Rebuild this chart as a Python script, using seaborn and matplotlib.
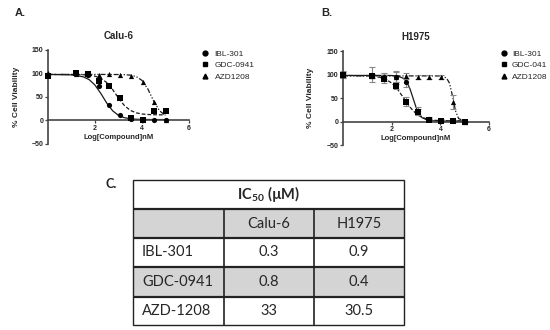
import matplotlib
matplotlib.use('Agg')
import matplotlib.pyplot as plt
import seaborn as sns
from matplotlib.lines import Line2D
from matplotlib.patches import Rectangle

sns.set_style('ticks')
plt.rcParams['font.family'] = ['Liberation Sans', 'DejaVu Sans']
plt.rcParams['mathtext.fontset'] = 'custom'
plt.rcParams['mathtext.rm'] = 'Lato:bold'

# log dose of each measurement (same for both cell lines)
dose_x = [0, 1.18, 1.7, 2.18, 2.6, 3.08, 3.54, 4.03, 4.52, 5.0]

# --- A. Calu-6 measured viability
calu_ibl = [97, 100, 97, 73, 33, 11, 3, 0, 2, 0]
calu_gdc = [95, 100, 99, 85, 73, 48, 5, 1, 20, 20]
calu_azd = [100, 99, 98, 97, 99, 97, 95, 82, 40, 0]

# fitted curves
curve_a_x = [0, 1.0, 1.5, 1.75, 2.0, 2.25, 2.5, 2.75, 3.0, 3.25, 3.5, 3.75, 4.0, 4.25, 4.5, 4.75, 5.0]
fit_a_ibl = [98, 97.1, 93.0, 87.0, 75.3, 57.4, 37.1, 20.7, 10.9, 6.0, 3.7, 2.7, 2.3, 2.1, 2.0, 2.0, 2.0]
fit_a_gdc = [98, 97.9, 97.3, 96.4, 94.3, 89.8, 80.7, 65.9, 47.7, 31.8, 21.6, 16.3, 13.9, 12.8, 12.3, 12.1, 12.0]
fit_a_azd = [98, 98, 98, 98, 98, 98, 98, 97.9, 97.8, 97.5, 96.5, 93.6, 85.3, 67.0, 41.0, 20.5, 10.5]

# --- B. H1975 measured viability (mean, error)
h_ibl = [100, 100, 95, 95, 83, 22, 5, 2, 1, 0]
h_ibl_err = [8, 15, 8, 12, 9, 8, 4, 3, 2, 1]
h_gdc = [98, 97, 90, 75, 42, 20, 4, 2, 1, 0]
h_gdc_err = [5, 5, 8, 5, 10, 6, 3, 2, 1, 1]
h_azd = [100, 97, 95, 95, 97, 95, 95, 95, 42, 0]
h_azd_err = [5, 5, 5, 10, 6, 5, 5, 5, 15, 1]

curve_b_x = [0, 1.0, 1.5, 1.75, 2.0, 2.25, 2.5, 2.625, 2.75, 2.875, 3.0, 3.125, 3.25, 3.5, 3.75, 4.0,
             4.25, 4.375, 4.5, 4.625, 4.75, 5.0]
fit_b_ibl = [98, 98, 98, 98, 97.8, 96.8, 91.4, 83.8, 69.9, 50.3, 30.5, 16.1, 8.0, 2.3, 1.2, 1.0,
             1, 1, 1, 1, 1, 1]
fit_b_gdc = [98, 97.2, 94.3, 90.1, 81.8, 68.0, 49.5, 39.9, 30.9, 23.3, 17.1, 12.4, 8.9, 4.7, 2.7, 1.8,
             1.4, 1.3, 1.2, 1.1, 1.1, 1.0]
fit_b_azd = [97, 97, 97, 97, 97, 97, 97, 97, 97, 97, 97, 97, 97, 97, 97, 96.8,
             92.9, 81.6, 54.1, 22.3, 6.4, 0.4]

# --- C. IC50 table
drugs = ['IBL-301', 'GDC-0941', 'AZD-1208']
cell_lines = ['Calu-6', 'H1975']
ic50_calu = ['0.3', '0.8', '33']
ic50_h1975 = ['0.9', '0.4', '30.5']

markers = ['o', 's', '^']
styles = ['-', (0, (3, 1.6)), (0, (4, 1.5, 1, 1.5, 1, 1.5))]
ink = '#1a1a1a'

fig = plt.figure(figsize=(5.5, 3.3), dpi=100)

# pixel canvas for labels and the table
tax = fig.add_axes([0, 0, 1, 1])
tax.set_xlim(0, 550)
tax.set_ylim(330, 0)
tax.axis('off')


def draw_panel(ax, title, series, fits, curve_x, errs=None):
    for i in range(3):
        sns.lineplot(x=curve_x, y=fits[i], ax=ax, color=ink, lw=0.9, linestyle=styles[i], zorder=2)
        if errs is not None:
            ax.errorbar(dose_x, series[i], yerr=errs[i], fmt='none', ecolor='#888888',
                        elinewidth=0.8, capsize=2, capthick=0.8, zorder=2, clip_on=False)
        sns.scatterplot(x=dose_x, y=series[i], marker=markers[i], s=14, color='black',
                        linewidth=0, ax=ax, zorder=3, clip_on=False)
    ax.set_xlim(0, 6)
    ax.set_ylim(-50, 150)
    ax.set_xticks([2, 4, 6])
    ax.set_yticks([-50, 0, 50, 100, 150])
    ax.spines['bottom'].set_position(('data', 0))
    ax.spines['top'].set_visible(False)
    ax.spines['right'].set_visible(False)
    for s in ['left', 'bottom']:
        ax.spines[s].set_color('#444444')
        ax.spines[s].set_linewidth(1.2)
    ax.tick_params(labelsize=5, width=0.9, length=2.5, color='#444444', pad=1)
    for lab in ax.get_xticklabels() + ax.get_yticklabels():
        lab.set_fontweight('bold')
    ax.set_title(title, fontsize=7, fontweight='bold', pad=8)
    ax.set_xlabel('Log[Compound]nM', fontsize=5.5, fontweight='bold')
    ax.xaxis.set_label_coords(0.5, 0.11)
    ax.set_ylabel('% Cell Viability', fontsize=6, fontweight='bold')
    ax.yaxis.set_label_coords(-0.2, 0.5)


def add_legend(ax, labels, x_px, pad):
    handles = [Line2D([], [], marker=m, ls='none', color='black', ms=3.5) for m in markers]
    ax.legend(handles, labels, loc='upper left', bbox_to_anchor=(x_px / 550, 1 - 50 / 330),
              bbox_transform=fig.transFigure, fontsize=6, handlelength=0.6, handletextpad=pad,
              labelspacing=0.45, borderpad=0, borderaxespad=0, frameon=False)


ax_a = fig.add_axes([48 / 550, 1 - 144 / 330, 141 / 550, 94 / 330])
draw_panel(ax_a, 'Calu-6', [calu_ibl, calu_gdc, calu_azd], [fit_a_ibl, fit_a_gdc, fit_a_azd], curve_a_x)
add_legend(ax_a, ['IBL-301', 'GDC-0941', 'AZD1208'], 202, 0.9)

ax_b = fig.add_axes([343 / 550, 1 - 145 / 330, 146 / 550, 94 / 330])
draw_panel(ax_b, 'H1975', [h_ibl, h_gdc, h_azd], [fit_b_ibl, fit_b_gdc, fit_b_azd], curve_b_x,
           errs=[h_ibl_err, h_gdc_err, h_azd_err])
add_legend(ax_b, ['IBL-301', 'GDC-041', 'AZD1208'], 501, 0.7)

# panel letters
tax.text(15, 13, 'A.', fontsize=8, fontweight='bold', va='center')
tax.text(321, 13, 'B.', fontsize=8, fontweight='bold', va='center')
tax.text(106, 184, 'C.', fontsize=9, fontweight='bold', va='center', family='Lato')

# table
col_edges = [133, 224, 314, 404]
row_edges = [180, 209, 238, 267, 297, 325]
gray = '#d4d4d4'
for r in [1, 3]:
    tax.add_patch(Rectangle((col_edges[0], row_edges[r]), col_edges[-1] - col_edges[0],
                            row_edges[r + 1] - row_edges[r], facecolor=gray, edgecolor='none'))
tax.add_patch(Rectangle((col_edges[0], row_edges[0]), col_edges[-1] - col_edges[0],
                        row_edges[-1] - row_edges[0], facecolor='none', edgecolor='#222222', lw=1))
for y in row_edges[1:-1]:
    tax.plot([col_edges[0], col_edges[-1]], [y, y], color='#222222', lw=1.6, solid_capstyle='butt')
for x in col_edges[1:-1]:
    tax.plot([x, x], [row_edges[1], row_edges[-1]], color='#222222', lw=1.2, solid_capstyle='butt')

tfont = dict(family='Lato', fontsize=10.5, va='center')
mid = lambda a, b: (a + b) / 2
tax.text(mid(col_edges[0], col_edges[-1]), mid(row_edges[0], row_edges[1]), 'IC$_{50}$ (\u00b5M)',
         ha='center', fontweight='bold', **tfont)
for j, name in enumerate(cell_lines):
    tax.text(mid(col_edges[j + 1], col_edges[j + 2]), mid(row_edges[1], row_edges[2]), name, ha='center', **tfont)
for i, d in enumerate(drugs):
    yc = mid(row_edges[i + 2], row_edges[i + 3])
    tax.text(col_edges[0] + 9, yc, d, ha='left', **tfont)
    tax.text(mid(col_edges[1], col_edges[2]), yc, ic50_calu[i], ha='center', **tfont)
    tax.text(mid(col_edges[2], col_edges[3]), yc, ic50_h1975[i], ha='center', **tfont)

fig.savefig('out.png', dpi=100)
